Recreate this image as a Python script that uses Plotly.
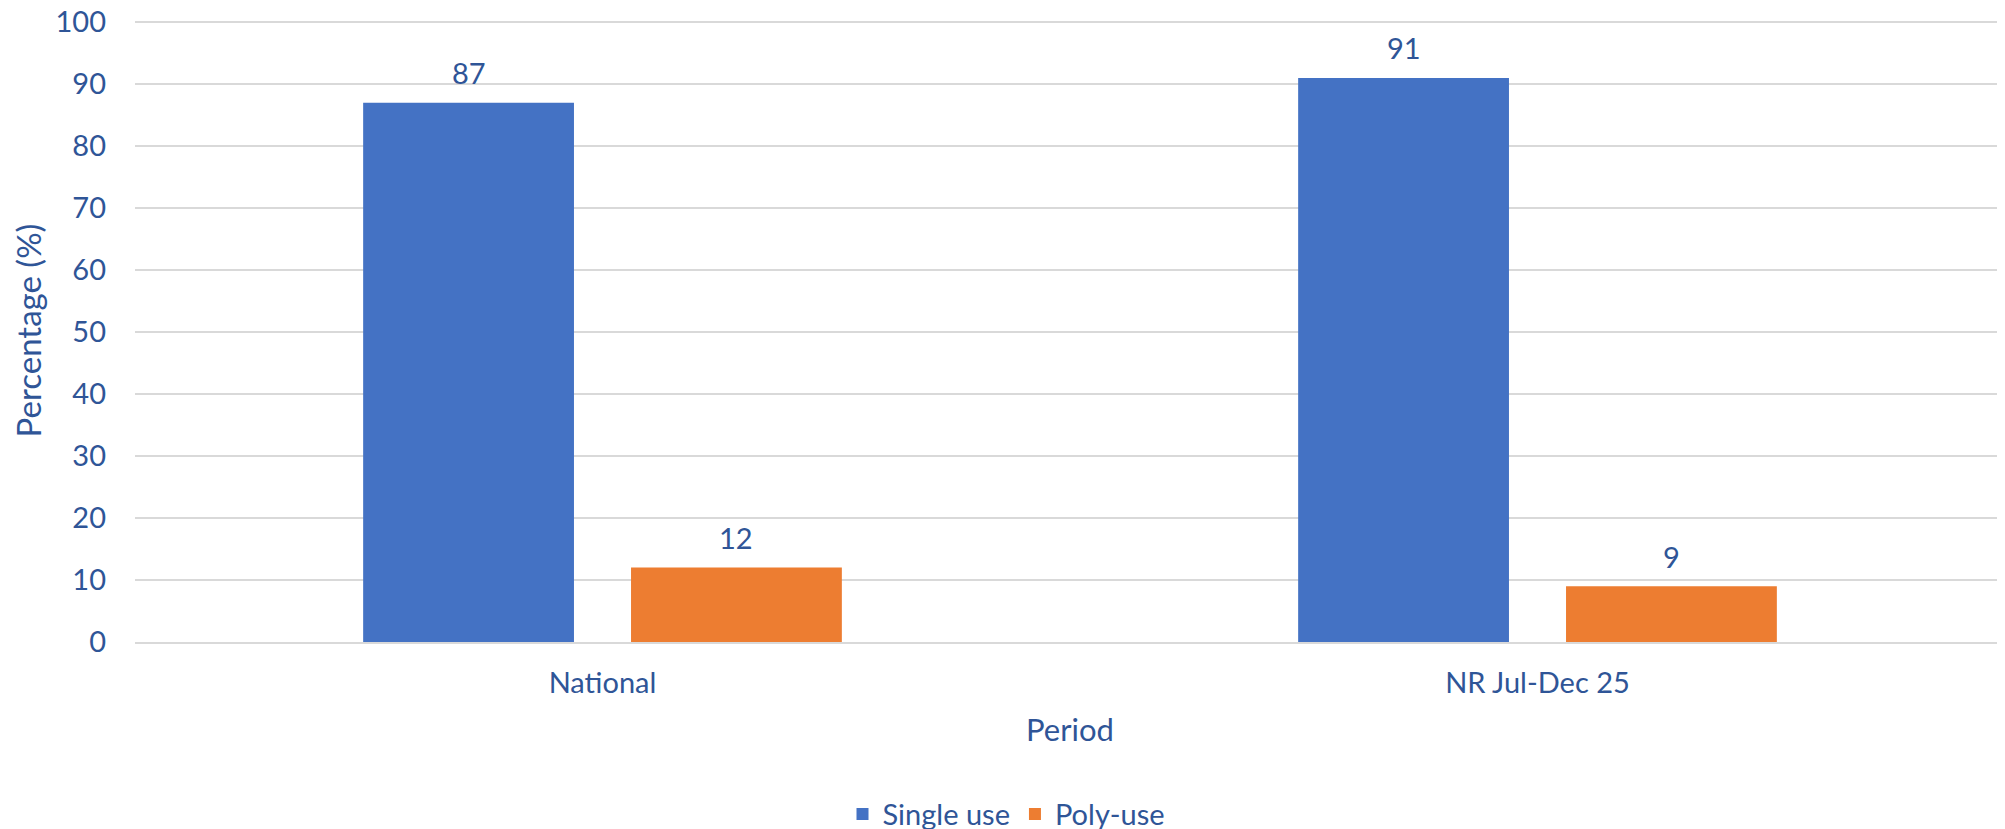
import plotly.graph_objects as go

categories = ["National", "NR Jul-Dec 25"]
single_use = [87, 91]
poly_use = [12, 9]
series_names = ["Single use", "Poly-use"]
colors = ["#4472C4", "#ED7D31"]
y_ticks = [0, 10, 20, 30, 40, 50, 60, 70, 80, 90, 100]

TEXT = "#2F5597"
FONT = "Lato"
BARGAP = 0.427
BARGROUPGAP = 0.213

fig = go.Figure()
series = [single_use, poly_use]
for name, vals, col in zip(series_names, series, colors):
    fig.add_trace(go.Bar(x=categories, y=vals, name=name, marker=dict(color=col, line=dict(width=0))))

# data labels
n = len(series)
slot = (1 - BARGAP) / n
for si, vals in enumerate(series):
    for ci, v in enumerate(vals):
        fig.add_annotation(x=ci + (si - (n - 1) / 2) * slot, y=v, xref="x", yref="y",
                           text=str(v), showarrow=False, yshift=30, yanchor="middle",
                           font=dict(family=FONT, size=29, color=TEXT))

# page body has an 8px margin, so the figure is sized/offset to compensate
fig.update_layout(
    width=1997, height=821,
    margin=dict(l=127, r=0, t=11, b=187, autoexpand=False),
    paper_bgcolor="white", plot_bgcolor="white",
    barmode="group", bargap=BARGAP, bargroupgap=BARGROUPGAP,
    font=dict(family=FONT, size=29, color=TEXT),
    legend=dict(orientation="h", x=0.5, xanchor="center", y=0.018, yanchor="middle",
                xref="container", yref="container",
                font=dict(family=FONT, size=29, color=TEXT),
                itemwidth=30, traceorder="normal"),
    showlegend=True,
)
fig.update_xaxes(
    showgrid=False, showline=True, linecolor="#D9D9D9", linewidth=2,
    ticks="", tickfont=dict(family=FONT, size=29, color=TEXT), ticklabelstandoff=14,
    title=dict(text="Period", font=dict(family=FONT, size=31, color=TEXT), standoff=22),
    automargin=False,
)
fig.update_yaxes(
    range=[0, 100.5], tickvals=y_ticks, showgrid=True, gridcolor="#D9D9D9", gridwidth=2,
    zeroline=False, showline=False, ticks="", ticklabeloverflow="allow",
    tickfont=dict(family=FONT, size=29, color=TEXT), ticklabelstandoff=28,
    title=dict(text="Percentage (%)", font=dict(family=FONT, size=33, color=TEXT), standoff=5),
    automargin=False,
)

fig.write_html("out.html")
